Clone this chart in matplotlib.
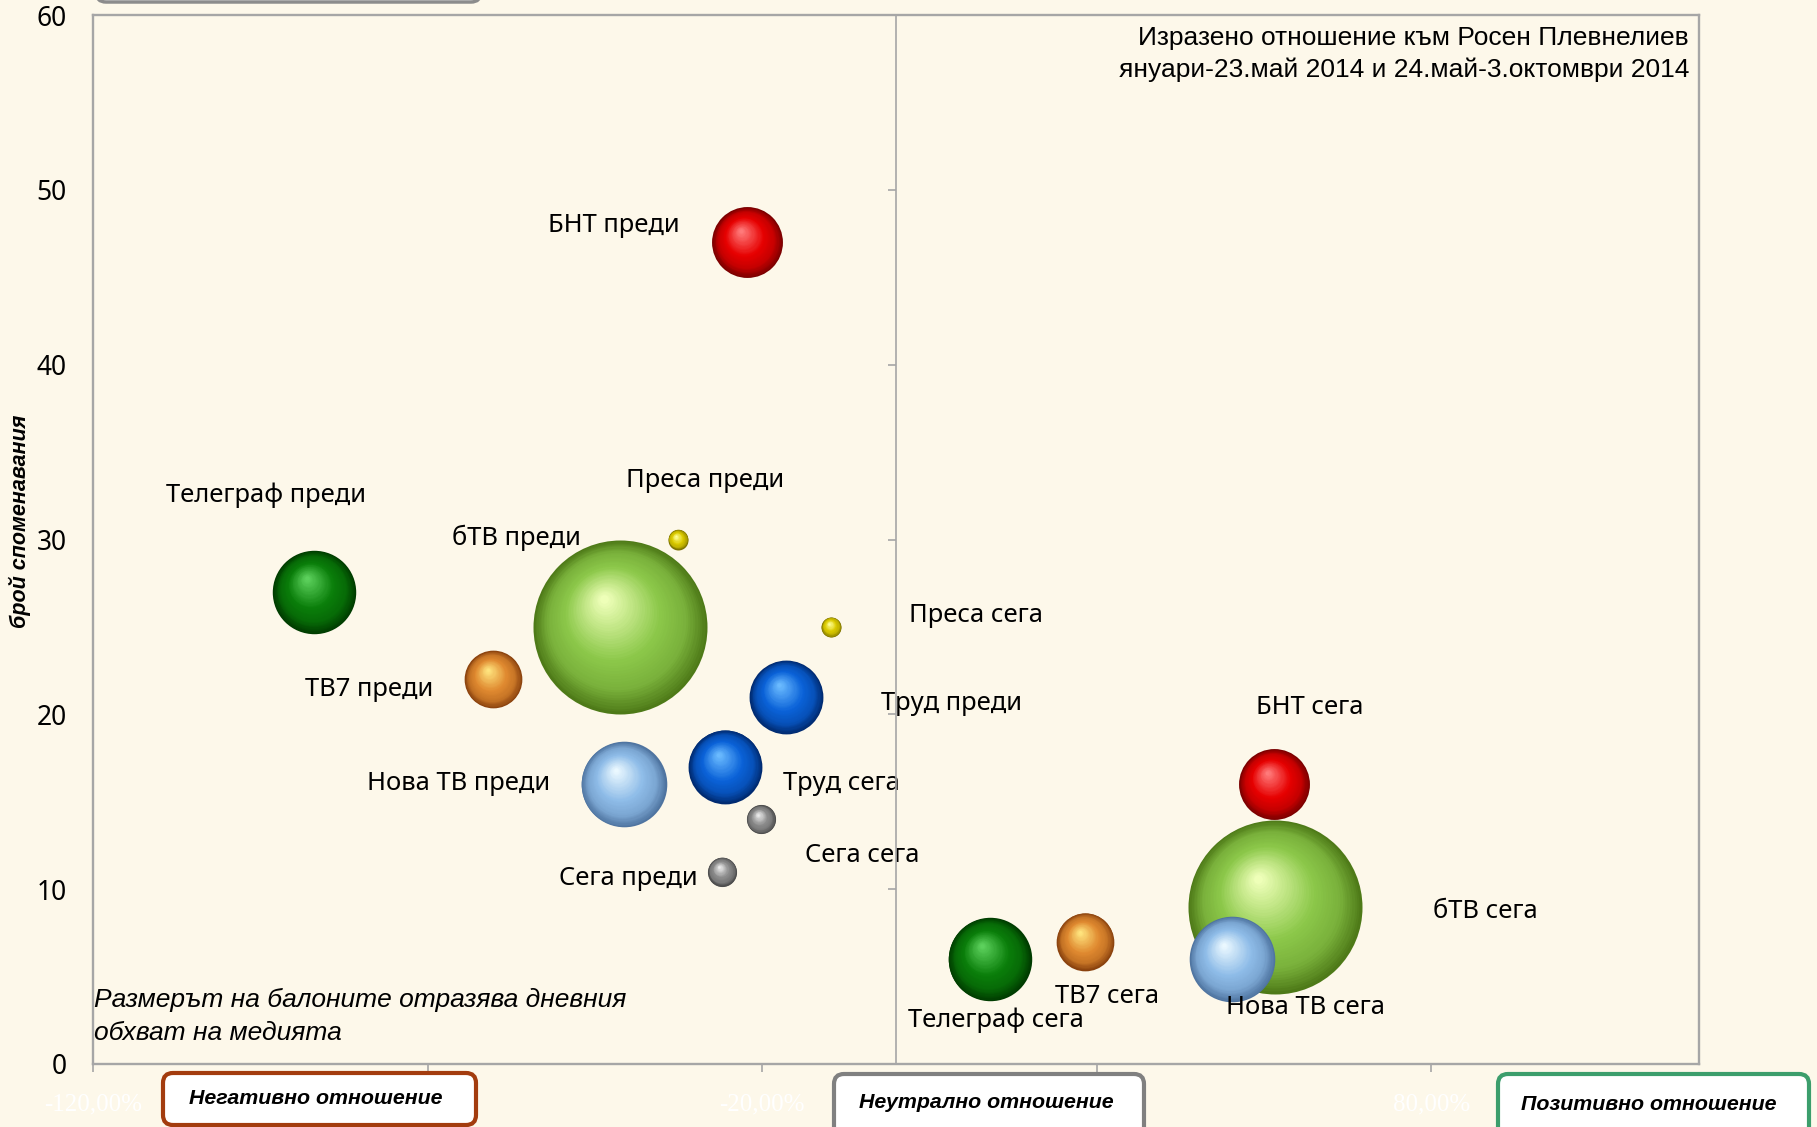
import matplotlib
matplotlib.use('Agg')
import matplotlib.pyplot as plt
from matplotlib.transforms import ScaledTranslation, IdentityTransform
from matplotlib.patches import FancyBboxPatch
from matplotlib.ticker import FuncFormatter
import numpy as np

# ---------------- data ----------------
point_labels = ["БНТ преди", "БНТ сега", "бТВ преди", "бТВ сега",
                "Нова ТВ преди", "Нова ТВ сега", "Телеграф преди", "Телеграф сега",
                "Труд преди", "Труд сега", "ТВ7 преди", "ТВ7 сега",
                "Сега преди", "Сега сега", "Преса преди", "Преса сега"]
media = ["БНТ", "БНТ", "бТВ", "бТВ", "Нова ТВ", "Нова ТВ", "Телеграф", "Телеграф",
         "Труд", "Труд", "ТВ7", "ТВ7", "Сега", "Сега", "Преса", "Преса"]
attitude_pct = [-22.2, 56.5, -41.2, 56.6, -40.7, 50.2, -86.9, 14.0,
                -16.4, -25.5, -60.2, 28.3, -26.0, -20.2, -32.6, -9.7]
mentions = [47, 16, 25, 9, 16, 6, 27, 6, 21, 17, 22, 7, 11, 14, 30, 25]
daily_reach = [8.3, 8.3, 50.0, 50.0, 12.1, 12.1, 11.5, 11.5,
               9.0, 9.0, 5.5, 5.5, 1.4, 1.4, 0.66, 0.66]

x_ticks = [-120, -70, -20, 30, 80]
y_ticks = [0, 10, 20, 30, 40, 50, 60]

title_lines = ["Изразено отношение към Росен Плевнелиев",
               "януари-23.май 2014 и 24.май-3.октомври 2014"]
note_lines = ["Размерът на балоните отразява дневния", "обхват на медията"]
y_label = "брой споменавания"
box_texts = ["Негативно отношение", "Неутрално отношение", "Позитивно отношение"]

# ---------------- style ----------------
W, H = 1817, 1127
BG = '#FDF8EA'
GRID = '#A6A6A6'
sphere_colors = {  # dark, base, light
    "БНТ": ('#7A0000', '#E60000', '#FF7A7A'),
    "бТВ": ('#4E7A18', '#8CC84A', '#EEFFB8'),
    "Нова ТВ": ('#4F74A0', '#8EBCE8', '#EAF8FF'),
    "Телеграф": ('#003C00', '#0A7E0A', '#5CD05C'),
    "Труд": ('#002A70', '#0A62D8', '#6ABAFF'),
    "ТВ7": ('#8A420E', '#E08A30', '#FFE47E'),
    "Сега": ('#4A4A4A', '#8C8C8C', '#EBEBEB'),
    "Преса": ('#7E7400', '#DDCC00', '#FFFF9A'),
}
# label offsets from bubble centre, in pixels (x right, y up)
label_offsets = [(-134, 17), (36, 77), (-104, 89), (211, -5),
                 (-165, 1), (74, -48), (-48, 97), (6, -61),
                 (165, -7), (116, -17), (-124, -10), (22, -55),
                 (-94, -7), (101, -36), (27, 59), (145, 11)]
R_MAX = 87.0  # px radius of the largest bubble
LABEL_FONT = ['Noto Sans', 'DejaVu Sans']

fig = plt.figure(figsize=(W / 100, H / 100), dpi=100, facecolor=BG)
L, R, T, B = 93, 1699, 15, 1064
ax = fig.add_axes([L / W, 1 - B / H, (R - L) / W, (B - T) / H])
ax.set_facecolor(BG)
ax.set_xlim(-120, 120)
ax.set_ylim(0, 60)

for s in ax.spines.values():
    s.set_color(GRID)
    s.set_linewidth(1.7)

ax.set_xticks(x_ticks)
ax.xaxis.set_major_formatter(FuncFormatter(lambda v, p: f"{v:.2f}".replace('.', ',') + '%'))
ax.tick_params(axis='x', direction='out', length=6, width=1.2, color=GRID,
               labelcolor='white', labelsize=18, pad=15)
for lab in ax.get_xticklabels():
    lab.set_fontfamily(['Liberation Serif', 'DejaVu Serif'])

ax.set_yticks(y_ticks)
ax.tick_params(axis='y', length=0, pad=19, labelsize=19)
for lab in ax.get_yticklabels():
    lab.set_fontfamily(LABEL_FONT)

# vertical axis at x = 0 with its ticks
ax2 = ax.twinx()
ax2.set_ylim(0, 60)
ax2.set_yticks(y_ticks)
ax2.yaxis.tick_left()
for k in ['top', 'right', 'bottom']:
    ax2.spines[k].set_visible(False)
ax2.spines['left'].set_position(('data', 0))
ax2.spines['left'].set_color(GRID)
ax2.spines['left'].set_linewidth(1.2)
ax2.tick_params(axis='y', direction='out', length=6, width=1.2, color=GRID,
                labelleft=False, labelright=False)


def mix(c1, c2, t):
    a = np.array(matplotlib.colors.to_rgb(c1))
    b = np.array(matplotlib.colors.to_rgb(c2))
    return tuple(a + (b - a) * t)


def grad_color(dark, base, light, t):
    stops = [(0.0, dark), (0.2, mix(dark, base, 0.7)), (0.45, base), (0.95, light)]
    for (t0, c0), (t1, c1) in zip(stops[:-1], stops[1:]):
        if t <= t1:
            return mix(c0, c1, (t - t0) / (t1 - t0))
    return matplotlib.colors.to_rgb(light)


def sphere(x, y, r_px, cols, n=42):
    dark, base, light = cols
    for i in range(n):
        t = i / (n - 1) * 0.95
        f = 1 - t
        dx = -0.20 * t * r_px
        dy = 0.34 * t * r_px
        tr = ax.transData + ScaledTranslation(dx / 100, dy / 100, fig.dpi_scale_trans)
        ax.scatter([x], [y], s=(2 * f * r_px * 0.72) ** 2, c=[grad_color(dark, base, light, t)],
                   transform=tr, linewidths=0, zorder=3)


max_reach = max(daily_reach)
for i in range(len(point_labels)):
    r_px = R_MAX * np.sqrt(daily_reach[i] / max_reach)
    sphere(attitude_pct[i], mentions[i], r_px, sphere_colors[media[i]])
    ox, oy = label_offsets[i]
    ax.annotate(point_labels[i], xy=(attitude_pct[i], mentions[i]),
                xytext=(ox * 0.72, oy * 0.72), textcoords='offset points',
                ha='center', va='center', fontsize=18.4, family=LABEL_FONT,
                color='black', zorder=5)

ax.set_xlim(-120, 120)
ax.set_ylim(0, 60)


def fx(px):
    return px / W


def fy(py):
    return 1 - py / H


TITLE_FONT = ['Liberation Sans Narrow', 'Liberation Sans', 'DejaVu Sans']
fig.text(fx(1689), fy(38), title_lines[0], ha='right', va='center', fontsize=19, family=TITLE_FONT)
fig.text(fx(1689), fy(70), title_lines[1], ha='right', va='center', fontsize=19, family=TITLE_FONT)

# note
fig.text(fx(94), fy(1000), note_lines[0], ha='left', va='center', fontsize=19, style='italic',
         family=['Liberation Sans', 'DejaVu Sans'])
fig.text(fx(94), fy(1033), note_lines[1], ha='left', va='center', fontsize=19, style='italic',
         family=['Liberation Sans', 'DejaVu Sans'])

# y label
fig.text(fx(20), fy(521), y_label, ha='center', va='center', rotation=90, fontsize=15.5,
         style='italic', weight='bold', family=['Liberation Sans', 'DejaVu Sans'])

# boxes
box_specs = [((163, 1073, 476, 1125), '#A33C0E', (316, 1098)),
             ((834, 1074, 1144, 1140), '#808080', (986, 1103)),
             ((1498, 1074, 1809, 1140), '#3C9E6C', (1649, 1104))]
for (x0, y0, x1, y1), ec, _ in box_specs:
    p = FancyBboxPatch((x0, H - y1), x1 - x0, y1 - y0,
                       boxstyle='round,pad=0,rounding_size=10',
                       transform=IdentityTransform(), facecolor='white',
                       edgecolor=ec, linewidth=3.0, zorder=10)
    fig.add_artist(p)
for (b, txt) in zip(box_specs, box_texts):
    tx, ty = b[2]
    fig.text(fx(tx), fy(ty), txt, ha='center', va='center', fontsize=15.4, style='italic',
             weight='bold', family=['Liberation Sans', 'DejaVu Sans'], zorder=11)

# top-left box cut by the edge
p = FancyBboxPatch((96, H - 2), 385, 60, boxstyle='round,pad=0,rounding_size=10',
                   transform=IdentityTransform(), facecolor='white',
                   edgecolor='#8C8C8C', linewidth=2.5, zorder=10)
fig.add_artist(p)

fig.savefig('out.png', dpi=100, facecolor=BG)
